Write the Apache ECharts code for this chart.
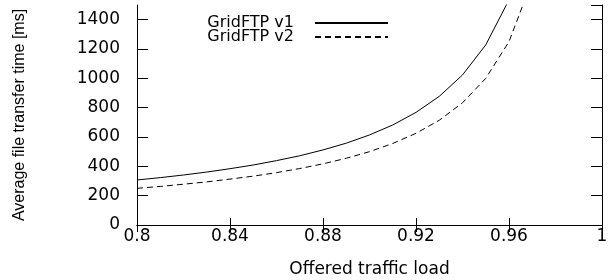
<!DOCTYPE html>
<html>
<head>
<meta charset="utf-8">
<script src="https://cdn.jsdelivr.net/npm/echarts@6/dist/echarts.min.js"></script>
<style>
  html, body { margin: 0; padding: 0; background: #fff; }
  #chart { width: 608px; height: 280px; }
</style>
</head>
<body>
<div id="chart"></div>
<script>
// offered load (x) and average transfer time in ms
const loads = [0.80, 0.81, 0.82, 0.83, 0.84, 0.85, 0.86, 0.87, 0.88, 0.89, 0.90, 0.91, 0.92, 0.93, 0.94, 0.95, 0.96, 0.97]
const v1Times = [307, 323, 341, 361, 384, 409, 439, 472, 512, 558, 614, 682, 768, 877, 1023, 1228, 1535]
const v2Times = [250, 263, 278, 294, 313, 333, 357, 385, 417, 455, 500, 556, 625, 714, 833, 1000, 1250, 1667]
const seriesNames = ['GridFTP v1', 'GridFTP v2']

const toPairs = (vals) => vals.map((v, i) => [loads[i], v])

const chart = echarts.init(document.getElementById('chart'))

const font = 'DejaVu Sans'
const border = { show: true, lineStyle: { color: '#000', width: 1 } }

const option = {
  animation: false,
  grid: { left: 137, right: 6, top: 5, bottom: 55, outerBoundsMode: 'none' },
  legend: {
    orient: 'vertical',
    right: 214,
    top: 10,
    align: 'right',
    itemGap: -2,
    itemWidth: 73,
    itemHeight: 13,
    itemStyle: { opacity: 0 },
    textStyle: { fontFamily: font, fontSize: 16, color: '#000', lineHeight: 13, padding: [0, 16, 0, 0] },
    data: seriesNames
  },
  xAxis: [
    {
      type: 'value',
      min: 0.8,
      max: 1,
      interval: 0.04,
      name: 'Offered traffic load',
      nameLocation: 'middle',
      nameGap: 36,
      nameTextStyle: { fontFamily: font, fontSize: 17, color: '#000' },
      axisLine: border,
      axisTick: { inside: true, length: 7, lineStyle: { color: '#000' } },
      axisLabel: { fontFamily: font, fontSize: 17, color: '#000', margin: 3 },
      splitLine: { show: false }
    },
    {
      type: 'value',
      position: 'top',
      min: 0.8,
      max: 1,
      interval: 0.04,
      axisLine: border,
      axisTick: { inside: true, length: 7, lineStyle: { color: '#000' } },
      axisLabel: { show: false },
      splitLine: { show: false }
    }
  ],
  yAxis: [
    {
      type: 'value',
      min: 0,
      max: 1500,
      interval: 200,
      name: 'Average file transfer time [ms]',
      nameLocation: 'middle',
      nameGap: 109,
      nameTextStyle: { fontFamily: 'Liberation Sans', fontSize: 16, color: '#000' },
      axisLine: border,
      axisTick: { inside: true, length: 11, lineStyle: { color: '#000' } },
      axisLabel: {
        fontFamily: font, fontSize: 17, color: '#000', margin: 17, showMaxLabel: false,
        formatter: (v) => String(v)
      },
      splitLine: { show: false }
    },
    {
      type: 'value',
      position: 'right',
      min: 0,
      max: 1500,
      interval: 200,
      axisLine: border,
      axisTick: { inside: true, length: 11, lineStyle: { color: '#000' } },
      axisLabel: { show: false },
      splitLine: { show: false }
    }
  ],
  series: [
    {
      name: seriesNames[0],
      type: 'line',
      data: toPairs(v1Times),
      symbol: 'none',
      clip: true,
      lineStyle: { color: '#000', width: 1 },
      itemStyle: { color: '#000' }
    },
    {
      name: seriesNames[1],
      type: 'line',
      data: toPairs(v2Times),
      symbol: 'none',
      clip: true,
      lineStyle: { color: '#000', width: 1, type: [6, 4] },
      itemStyle: { color: '#000' }
    }
  ]
}

chart.setOption(option)
</script>
</body>
</html>
